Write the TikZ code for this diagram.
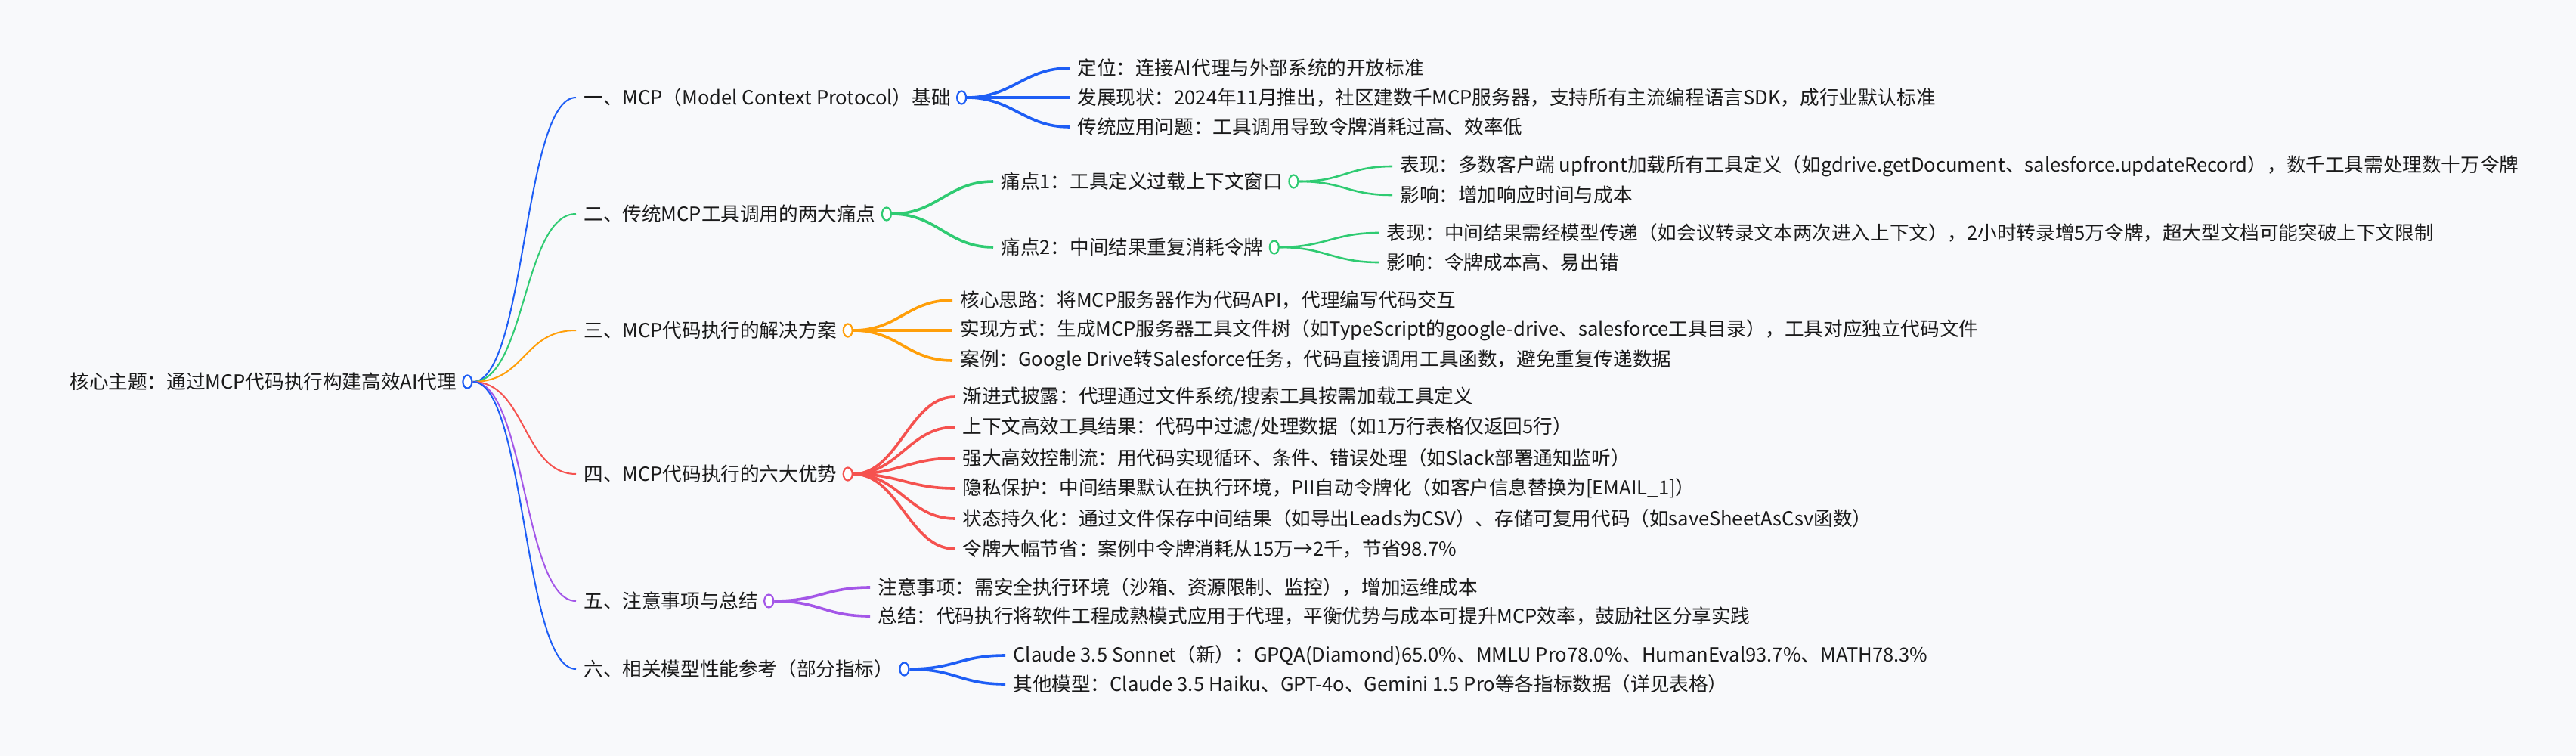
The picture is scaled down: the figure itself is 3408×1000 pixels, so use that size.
\documentclass[tikz,border=0pt]{standalone}
\usepackage{fontspec}
\setmainfont{Noto Sans CJK SC}
\usetikzlibrary{shapes.geometric}
\definecolor{bg}{HTML}{F8F9FB}
\definecolor{cb}{HTML}{1E5EF5}
\definecolor{cg}{HTML}{2FCB72}
\definecolor{co}{HTML}{FF9F0A}
\definecolor{cr}{HTML}{F5524F}
\definecolor{cp}{HTML}{A457E8}
\definecolor{tx}{HTML}{1A1A1A}
\begin{document}
\begin{tikzpicture}[x=0.5pt,y=-0.5pt,
  txt/.style={anchor=west,inner sep=0pt,text=tx,font=\fontsize{12.8}{15}\selectfont},
  dot/.style={ellipse,draw,fill=white,minimum width=6pt,minimum height=8.5pt,inner sep=0pt,line width=1.1pt},
  la/.style={line width=1pt},
  lb/.style={line width=1.8pt},
  lc/.style={line width=1.3pt}]
\fill[bg] (0,0) rectangle (3408,1000);
\useasboundingbox (0,0) rectangle (3408,1000);
% root
\node[txt] (r) at (92,505) {核心主题：通过MCP代码执行构建高效AI代理};
\node[dot,draw=cb] (rd) at ([xshift=7pt]r.east) {};
% level 1
\node[txt] (a) at (772,129) {一、MCP（Model Context Protocol）基础};
\node[txt] (b) at (772,283) {二、传统MCP工具调用的两大痛点};
\node[txt] (c) at (772,437) {三、MCP代码执行的解决方案};
\node[txt] (d) at (772,627) {四、MCP代码执行的六大优势};
\node[txt] (e) at (772,795) {五、注意事项与总结};
\node[txt] (f) at (772,885) {六、相关模型性能参考（部分指标）};
\node[dot,draw=cb] (ad) at ([xshift=7pt]a.east) {};
\node[dot,draw=cg] (bd) at ([xshift=7pt]b.east) {};
\node[dot,draw=co] (cd) at ([xshift=7pt]c.east) {};
\node[dot,draw=cr] (dd) at ([xshift=7pt]d.east) {};
\node[dot,draw=cp] (ed) at ([xshift=7pt]e.east) {};
\node[dot,draw=cb] (fd) at ([xshift=7pt]f.east) {};
\foreach \n/\c in {a/cb,b/cg,c/co,d/cr,e/cp,f/cb}
  \draw[la,\c] (rd.east) .. controls +(70,0) and +(-70,0) .. ([xshift=-5pt]\n.west);
% level 2 of a
\node[txt] (a1) at (1425,90) {定位：连接AI代理与外部系统的开放标准};
\node[txt] (a2) at (1425,129) {发展现状：2024年11月推出，社区建数千MCP服务器，支持所有主流编程语言SDK，成行业默认标准};
\node[txt] (a3) at (1425,168) {传统应用问题：工具调用导致令牌消耗过高、效率低};
% b
\node[txt] (b1) at (1324,240) {痛点1：工具定义过载上下文窗口};
\node[txt] (b2) at (1324,327) {痛点2：中间结果重复消耗令牌};
\node[dot,draw=cg] (b1d) at ([xshift=7pt]b1.east) {};
\node[dot,draw=cg] (b2d) at ([xshift=7pt]b2.east) {};
\node[txt] (b11) at (1852,220) {表现：多数客户端 upfront加载所有工具定义（如gdrive.getDocument、salesforce.updateRecord），数千工具需处理数十万令牌};
\node[txt] (b12) at (1852,258) {影响：增加响应时间与成本};
\node[txt] (b21) at (1834,308) {表现：中间结果需经模型传递（如会议转录文本两次进入上下文），2小时转录增5万令牌，超大型文档可能突破上下文限制};
\node[txt] (b22) at (1834,347) {影响：令牌成本高、易出错};
% c
\node[txt] (c1) at (1270,397) {核心思路：将MCP服务器作为代码API，代理编写代码交互};
\node[txt] (c2) at (1270,437) {实现方式：生成MCP服务器工具文件树（如TypeScript的google-drive、salesforce工具目录），工具对应独立代码文件};
\node[txt] (c3) at (1270,477) {案例：Google Drive转Salesforce任务，代码直接调用工具函数，避免重复传递数据};
% d
\node[txt] (d1) at (1273,525) {渐进式披露：代理通过文件系统/搜索工具按需加载工具定义};
\node[txt] (d2) at (1273,565) {上下文高效工具结果：代码中过滤/处理数据（如1万行表格仅返回5行）};
\node[txt] (d3) at (1273,606) {强大高效控制流：用代码实现循环、条件、错误处理（如Slack部署通知监听）};
\node[txt] (d4) at (1273,646) {隐私保护：中间结果默认在执行环境，PII自动令牌化（如客户信息替换为[EMAIL\_1]）};
\node[txt] (d5) at (1273,686) {状态持久化：通过文件保存中间结果（如导出Leads为CSV）、存储可复用代码（如saveSheetAsCsv函数）};
\node[txt] (d6) at (1273,726) {令牌大幅节省：案例中令牌消耗从15万→2千，节省98.7\%};
% e
\node[txt] (e1) at (1161,777) {注意事项：需安全执行环境（沙箱、资源限制、监控），增加运维成本};
\node[txt] (e2) at (1161,815) {总结：代码执行将软件工程成熟模式应用于代理，平衡优势与成本可提升MCP效率，鼓励社区分享实践};
% f
\node[txt] (f1) at (1340,867) {Claude 3.5 Sonnet（新）：GPQA(Diamond)65.0\%、MMLU Pro78.0\%、HumanEval93.7\%、MATH78.3\%};
\node[txt] (f2) at (1340,905) {其他模型：Claude 3.5 Haiku、GPT-4o、Gemini 1.5 Pro等各指标数据（详见表格）};
% level-2 edges
\foreach \p/\n/\c in {ad/a1/cb,ad/a2/cb,ad/a3/cb,bd/b1/cg,bd/b2/cg,cd/c1/co,cd/c2/co,cd/c3/co,
  dd/d1/cr,dd/d2/cr,dd/d3/cr,dd/d4/cr,dd/d5/cr,dd/d6/cr,ed/e1/cp,ed/e2/cp,fd/f1/cb,fd/f2/cb}
  \draw[lb,\c] (\p.east) .. controls +(60,0) and +(-60,0) .. ([xshift=-5pt]\n.west);
\foreach \p/\n in {b1d/b11,b1d/b12,b2d/b21,b2d/b22}
  \draw[lc,cg] (\p.east) .. controls +(60,0) and +(-60,0) .. ([xshift=-5pt]\n.west);
\end{tikzpicture}
\end{document}
